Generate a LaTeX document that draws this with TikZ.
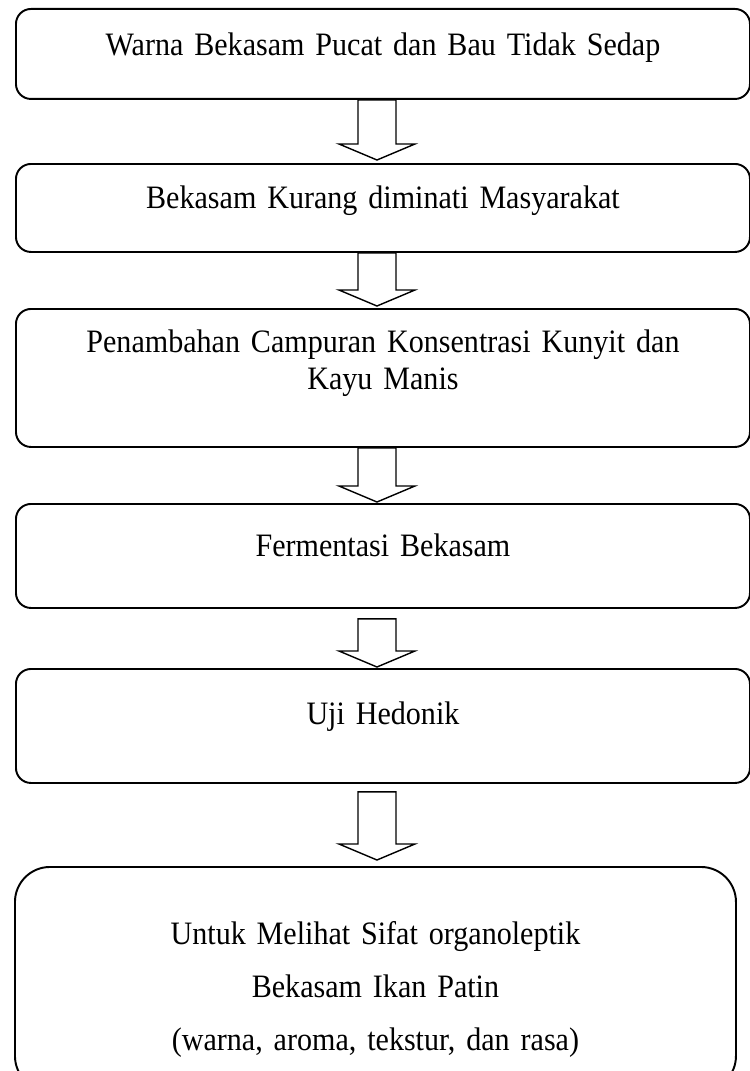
\documentclass[tikz,border=0pt]{standalone}
\usepackage{fontspec}
\setmainfont{Liberation Serif}[FakeStretch=0.92, WordSpace=0.85]
\usetikzlibrary{calc}
\tikzset{
    flowbox/.style={
        rectangle,
        rounded corners=0.3cm,
        draw=black,
        fill=white,
        anchor=north west,
        inner sep=0pt,
        text width=14.68cm,
        align=center,
        font=\fontsize{18.6}{22}\selectfont,
        line width=1.1pt
    },
    endbox/.style={
        flowbox,
        rounded corners=0.7cm,
        text width=14.42cm
    },
    blockarrow/.style={
        draw=black,
        fill=white,
        line width=0.8pt,
        line join=miter
    }
}

\begin{document}
\begin{tikzpicture}
    \useasboundingbox (0,0) rectangle (14.98,-21.42);

    % Boxes
    \node[flowbox, text height=0.94cm, text depth=0.86cm] (warna) at (0.30,-0.16)
        {Warna Bekasam Pucat dan Bau Tidak Sedap};
    \node[flowbox, text height=0.90cm, text depth=0.86cm] (minat) at (0.30,-3.26)
        {Bekasam Kurang diminati Masyarakat};
    \node[flowbox, text height=0.88cm, text depth=1.88cm] (tambah) at (0.30,-6.16)
        {Penambahan Campuran Konsentrasi Kunyit dan\\[-1pt]Kayu Manis};
    \node[flowbox, text height=1.06cm, text depth=1.02cm] (fermentasi) at (0.30,-10.06)
        {Fermentasi Bekasam};
    \node[flowbox, text height=1.12cm, text depth=1.16cm] (hedonik) at (0.30,-13.36)
        {Uji Hedonik};
    \node[endbox, text height=1.56cm, text depth=2.92cm] (sifat) at (0.28,-17.32)
        {Untuk Melihat Sifat organoleptik\\[8pt]
         Bekasam Ikan Patin\\[8pt]
         (warna, aroma, tekstur, dan rasa)};

    % Block arrows between boxes
    \foreach \from/\to/\gap/\tipgap in {warna/minat/0/0.06, minat/tambah/0/0.04,
        tambah/fermentasi/0/0.02, fermentasi/hedonik/0.2/0.02, hedonik/sifat/0.16/0.12}
        \draw[blockarrow] let \p1=($(\from.south)+(-0.12,-\gap)$), \p2=($(\to.north)+(0,\tipgap)$) in
            (\x1-0.38cm,\y1) -- (\x1-0.38cm,\y2+0.32cm) -- (\x1-0.76cm,\y2+0.32cm) -- (\x1,\y2)
            -- (\x1+0.76cm,\y2+0.32cm) -- (\x1+0.38cm,\y2+0.32cm) -- (\x1+0.38cm,\y1) -- cycle;
\end{tikzpicture}
\end{document}
